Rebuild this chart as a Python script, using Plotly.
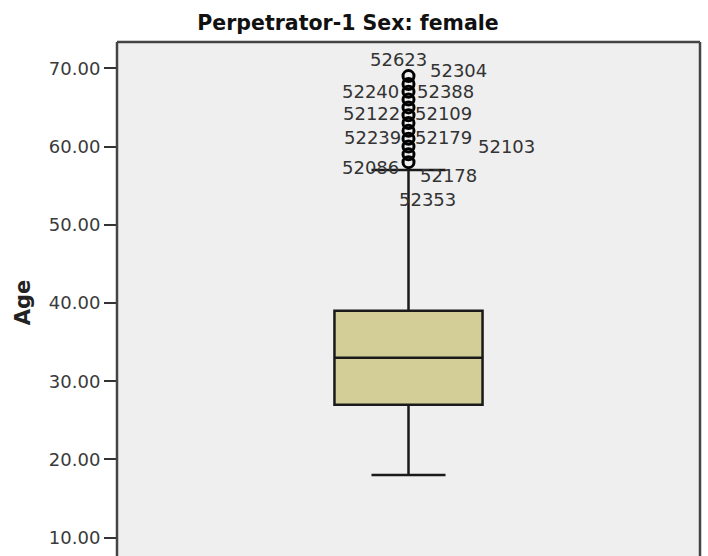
import plotly.graph_objects as go

# ---- data ----
title_text = "Perpetrator-1 Sex: female"
y_label = "Age"
q1 = 27
median = 33
q3 = 39
lower_whisker = 18
upper_whisker = 57
outlier_ages = [58, 59, 60, 61, 62, 63, 64, 65, 66, 67, 68, 69]
outlier_ids = ["52623", "52304", "52240", "52388", "52122", "52109",
               "52239", "52179", "52103", "52086", "52178", "52353"]
# label placement (pixel x offset from box centre, y in axis units)
label_xshift = [-10, 50, -38, 37, -37, 35, -36, 35, 98, -38, 40, 19]
label_y = [71.06, 69.78, 66.97, 66.97, 64.16, 64.16, 61.09, 61.09, 59.94, 57.26, 56.36, 53.29]
tick_vals = [10, 20, 30, 40, 50, 60, 70]

FONT = "DejaVu Sans"

fig = go.Figure()
fig.add_trace(go.Box(
    x=[0], q1=[q1], median=[median], q3=[q3],
    lowerfence=[lower_whisker], upperfence=[upper_whisker],
    width=0.508, whiskerwidth=0.5,
    fillcolor="#D3CE98",
    line=dict(color="#1a1a1a", width=2.5),
    boxpoints=False, showlegend=False, hoverinfo="skip",
))
fig.add_trace(go.Scatter(
    x=[0] * len(outlier_ages), y=outlier_ages, mode="markers",
    marker=dict(symbol="circle-open", size=11, color="#000000",
                line=dict(width=3, color="#000000")),
    showlegend=False, hoverinfo="skip",
))

for lab, dx, yy in zip(outlier_ids, label_xshift, label_y):
    fig.add_annotation(x=0, y=yy, xref="x", yref="y", xshift=dx,
                       text=lab, showarrow=False,
                       font=dict(family=FONT, size=18, color="#333333"),
                       xanchor="center", yanchor="middle")

# y-axis title
fig.add_annotation(x=-0.161, y=0.494, xref="paper", yref="paper",
                   text=y_label, textangle=-90, showarrow=False,
                   font=dict(family=FONT, size=21, color="#222222", weight="bold"),
                   xanchor="center", yanchor="middle")

# frame (left, top, right)
for (x0, y0, x1, y1) in [(0, -0.05, 0, 1), (0, 1, 1, 1), (1, -0.05, 1, 1)]:
    fig.add_shape(type="line", xref="paper", yref="paper",
                  x0=x0, y0=y0, x1=x1, y1=y1,
                  line=dict(color="#444444", width=2.5), layer="above")

fig.update_layout(
    width=708, height=556,
    margin=dict(l=117, r=8, t=42, b=0),
    paper_bgcolor="white", plot_bgcolor="#EFEFEF",
    title=dict(text=title_text, x=348 / 708, xanchor="center",
               y=1 - 23 / 556, yanchor="middle", yref="container",
               font=dict(family=FONT, size=20.5, color="#111111", weight="bold")),
    xaxis=dict(range=[-1, 1], visible=False, fixedrange=True),
    yaxis=dict(range=[7.66, 73.36], tickvals=tick_vals, tickformat=".2f",
               ticks="outside", ticklen=12, tickwidth=2, tickcolor="#333333",
               showgrid=False, zeroline=False, showline=False,
               tickfont=dict(family=FONT, size=18, color="#3a3a3a")),
)

fig.write_html("out.html", config={"displayModeBar": False},
               post_script="document.body.style.margin='0';")
